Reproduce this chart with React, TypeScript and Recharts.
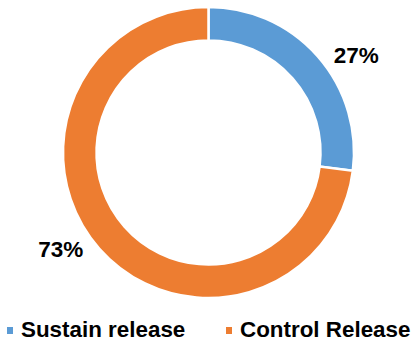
import { PieChart, Pie, Cell, Legend } from "recharts";

const categories = ["Sustain release", "Control Release"];
const shares = [27, 73];
const colors = ["#5B9BD5", "#ED7D31"];

const data = categories.map((name, i) => ({ name, value: shares[i] }));

const RADIAN = Math.PI / 180;

const renderLabel = (props: any) => {
  const { cx, cy, midAngle, value } = props;
  const x = cx + 197 * Math.cos(-midAngle * RADIAN);
  const y = cy + 146 * Math.sin(-midAngle * RADIAN);
  return (
    <text
      x={x}
      y={y}
      textAnchor="middle"
      dominantBaseline="central"
      fill="#000"
      style={{ fontFamily: "'Liberation Sans', Arial, sans-serif", fontWeight: 700, fontSize: 22.5 }}
    >
      {value}%
    </text>
  );
};

const LegendContent = () => (
  <div style={{ position: "relative", height: 30 }}>
    {categories.map((name, i) => (
      <div
        key={name}
        style={{
          position: "absolute",
          left: i === 0 ? 7 : 226,
          top: 0,
          display: "flex",
          alignItems: "center",
          fontFamily: "'Liberation Sans', Arial, sans-serif",
          fontWeight: 700,
          fontSize: 22.4,
          color: "#000",
          whiteSpace: "nowrap",
        }}
      >
        <span style={{ width: 6, height: 7, background: colors[i], marginRight: 8, display: "inline-block" }} />
        {name}
      </div>
    ))}
  </div>
);

export default function App() {
  return (
    <div style={{ position: "fixed", left: 0, top: 0, width: 417, height: 351, background: "#fff" }}>
      <PieChart width={417} height={351}>
        <Pie
          data={data}
          dataKey="value"
          nameKey="name"
          cx={203.5}
          cy={147.5}
          innerRadius={112}
          outerRadius={145.5}
          startAngle={90}
          endAngle={-270}
          stroke="#fff"
          strokeWidth={2.5}
          label={renderLabel}
          labelLine={false}
          isAnimationActive={false}
        >
          {data.map((d, i) => (
            <Cell key={d.name} fill={colors[i]} />
          ))}
        </Pie>
        <Legend
          content={LegendContent}
          wrapperStyle={{ position: "absolute", top: 317, left: 0, width: 417, height: 30 }}
        />
      </PieChart>
    </div>
  );
}
